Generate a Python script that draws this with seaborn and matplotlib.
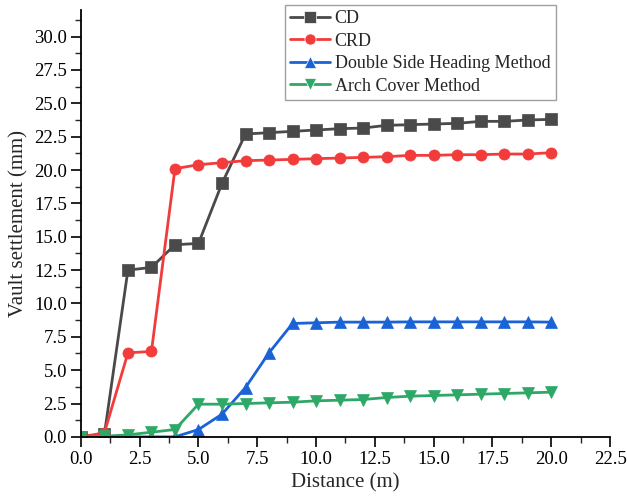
import numpy as np
import pandas as pd
import matplotlib
matplotlib.use("Agg")
import matplotlib.pyplot as plt
import seaborn as sns
from matplotlib.ticker import MultipleLocator, FormatStrFormatter

distance = list(range(0, 21))
cd = [0.0, 0.2, 12.5, 12.7, 14.4, 14.5, 19.0, 22.7, 22.8, 22.9, 23.0, 23.1, 23.15, 23.35, 23.4, 23.45, 23.5, 23.65, 23.65, 23.75, 23.8]
crd = [0.0, 0.3, 6.3, 6.4, 20.1, 20.4, 20.55, 20.7, 20.75, 20.8, 20.85, 20.9, 20.95, 21.0, 21.1, 21.1, 21.15, 21.15, 21.2, 21.2, 21.3]
dsh = [0.0, 0.0, 0.0, 0.0, 0.0, 0.55, 1.7, 3.7, 6.3, 8.5, 8.55, 8.6, 8.6, 8.6, 8.62, 8.62, 8.62, 8.62, 8.62, 8.62, 8.6]
arch = [0.0, 0.05, 0.15, 0.35, 0.55, 2.45, 2.45, 2.5, 2.55, 2.6, 2.7, 2.75, 2.8, 2.95, 3.05, 3.1, 3.15, 3.2, 3.25, 3.3, 3.35]

names = ["CD", "CRD", "Double Side Heading Method", "Arch Cover Method"]
colors = ["#4a4a4a", "#f23c3c", "#1a63d6", "#2ea866"]
markers = ["s", "o", "^", "v"]

df = pd.DataFrame({
    "Distance": distance * 4,
    "Value": cd + crd + dsh + arch,
    "Method": sum([[n] * len(distance) for n in names], []),
})

sns.set_theme(style="ticks")
plt.rcParams["font.family"] = ["Liberation Serif", "DejaVu Serif"]

fig = plt.figure(figsize=(6.27, 4.97), dpi=100)
ax = fig.add_axes([0.129, 0.121, 0.844, 0.859])

sns.lineplot(data=df, x="Distance", y="Value", hue="Method", style="Method",
             hue_order=names, style_order=names,
             palette=dict(zip(names, colors)), markers=dict(zip(names, markers)),
             dashes=False, linewidth=2, markersize=8, markeredgewidth=0.5,
             ax=ax, legend=True)
for ln, c in zip(ax.lines, colors):
    ln.set_markeredgecolor(c)

ax.set_xlim(0, 22.5)
ax.set_ylim(0, 32.0)
ax.xaxis.set_major_locator(MultipleLocator(2.5))
ax.xaxis.set_minor_locator(MultipleLocator(1.25))
ax.yaxis.set_major_locator(MultipleLocator(2.5))
ax.yaxis.set_minor_locator(MultipleLocator(1.25))
ax.xaxis.set_major_formatter(FormatStrFormatter("%.1f"))
ax.yaxis.set_major_formatter(FormatStrFormatter("%.1f"))
ax.tick_params(axis="both", which="major", direction="out", length=7, width=1.2, labelsize=13.5, colors="black", pad=3)
ax.tick_params(axis="both", which="minor", direction="out", length=4, width=1.0)
for s in ["top", "right"]:
    ax.spines[s].set_visible(False)
for s in ["left", "bottom"]:
    ax.spines[s].set_linewidth(1.3)
    ax.spines[s].set_color("black")

ax.set_xlabel("Distance (m)", fontsize=15, labelpad=4)
ax.set_ylabel("Vault settlement (mm)", fontsize=15, labelpad=4)

leg = ax.legend(loc="upper left", bbox_to_anchor=(0.4545, 0.99), bbox_transform=fig.transFigure,
                fontsize=13,
                frameon=True, fancybox=False, edgecolor="#888888",
                handlelength=2.2, handletextpad=0.25, labelspacing=0.3,
                borderpad=0.3, borderaxespad=0.0)
leg.get_frame().set_linewidth(1.0)

fig.savefig("out.png", dpi=100)
